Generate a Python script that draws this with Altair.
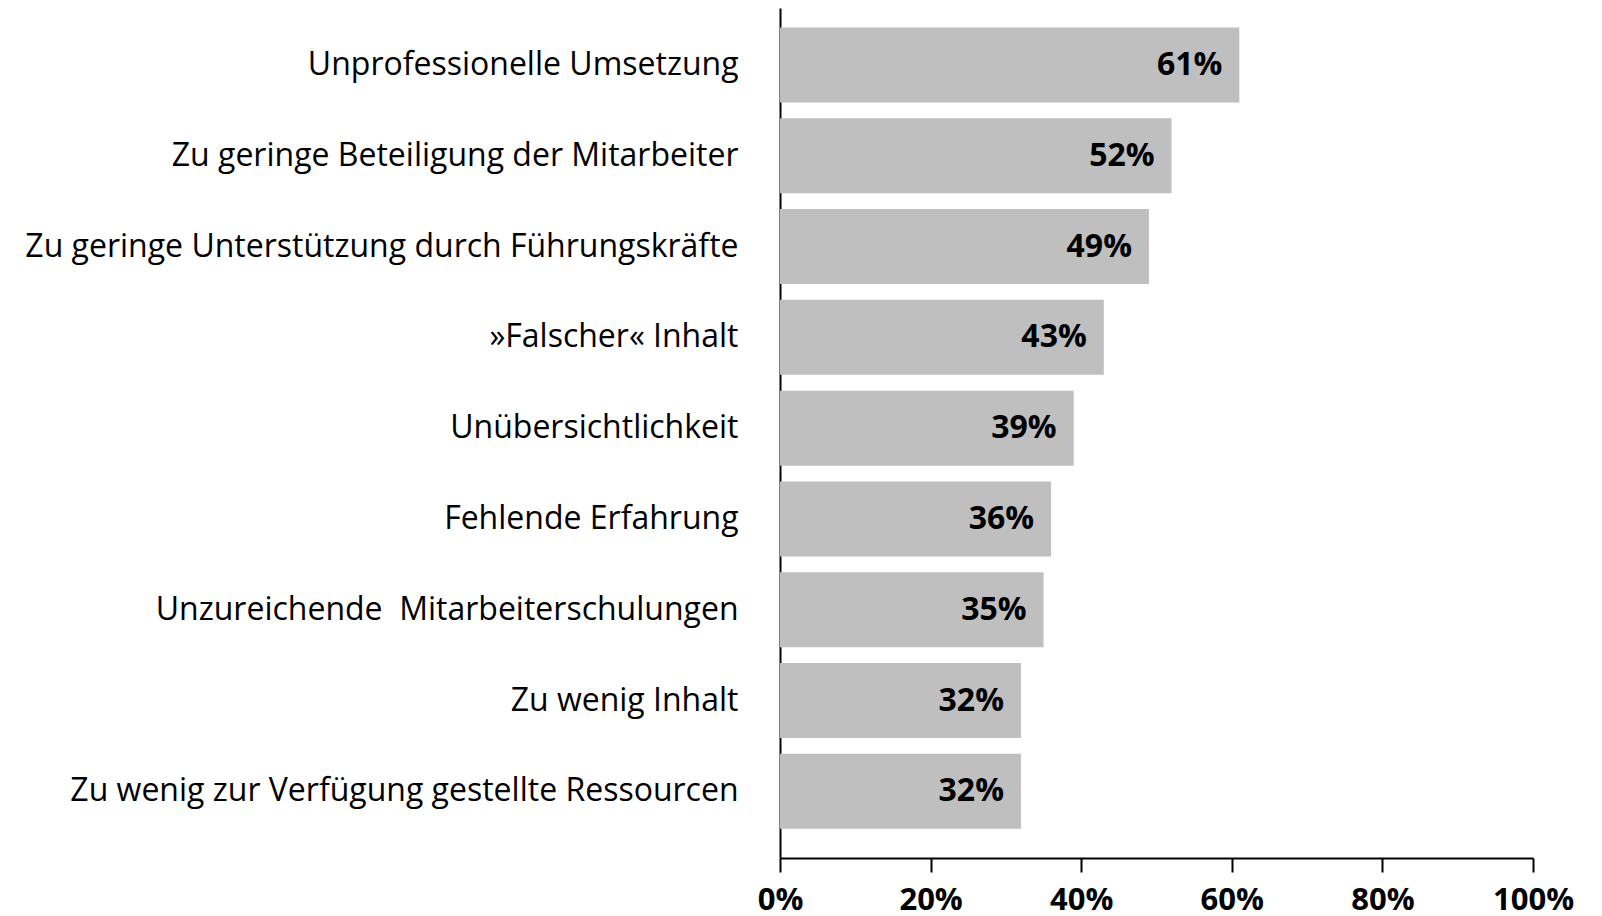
import altair as alt
import pandas as pd

categories = [
    "Unprofessionelle Umsetzung",
    "Zu geringe Beteiligung der Mitarbeiter",
    "Zu geringe Unterstützung durch Führungskräfte",
    "»Falscher« Inhalt",
    "Unübersichtlichkeit",
    "Fehlende Erfahrung",
    "Unzureichende\u00a0 Mitarbeiterschulungen",
    "Zu wenig Inhalt",
    "Zu wenig zur Verfügung gestellte Ressourcen",
]
values = [61, 52, 49, 43, 39, 36, 35, 32, 32]
x_ticks = [0, 20, 40, 60, 80, 100]

df = pd.DataFrame({"cat": categories, "val": values})
df["label"] = [f"{v}%" for v in values]

FONT = "Open Sans"

y_enc = alt.Y(
    "cat:N",
    sort=categories,
    scale=alt.Scale(paddingInner=0.174, paddingOuter=0.268, align=0.40),
    axis=alt.Axis(
        title=None,
        ticks=False,
        labelPadding=42,
        labelFont=FONT,
        labelFontSize=32,
        labelColor="#000000",
        labelLimit=0,
        domainColor="#000000",
        domainWidth=2,
    ),
)

x_enc = alt.X(
    "val:Q",
    scale=alt.Scale(domain=[0, 100], nice=False),
    axis=alt.Axis(
        title=None,
        values=x_ticks,
        labelExpr="datum.value + '%'",
        grid=False,
        tickSize=14,
        tickWidth=2,
        tickColor="#000000",
        domainColor="#000000",
        domainWidth=2,
        labelPadding=13,
        labelFont=FONT,
        labelFontSize=31,
        labelFontWeight="bold",
        labelColor="#000000",
        labelFlush=False,
    ),
)

bars = alt.Chart(df).mark_bar(color="#bfbfbf").encode(x=x_enc, y=y_enc)

text = alt.Chart(df).mark_text(
    align="right",
    baseline="middle",
    dx=-17,
    font=FONT,
    fontSize=32,
    fontWeight="bold",
    color="#000000",
).encode(x="val:Q", y=alt.Y("cat:N", sort=categories), text="label:N")

chart = (
    alt.layer(bars, text)
    .properties(
        width=753,
        height=850,
        autosize=alt.AutoSizeParams(type="none"),
        padding={"left": 772, "top": 0, "right": 60, "bottom": 58},
    )
    .configure(background="#ffffff")
    .configure_view(strokeWidth=0, stroke="transparent")
)

chart.save("out.html", embed_options={"renderer": "svg", "actions": False})
